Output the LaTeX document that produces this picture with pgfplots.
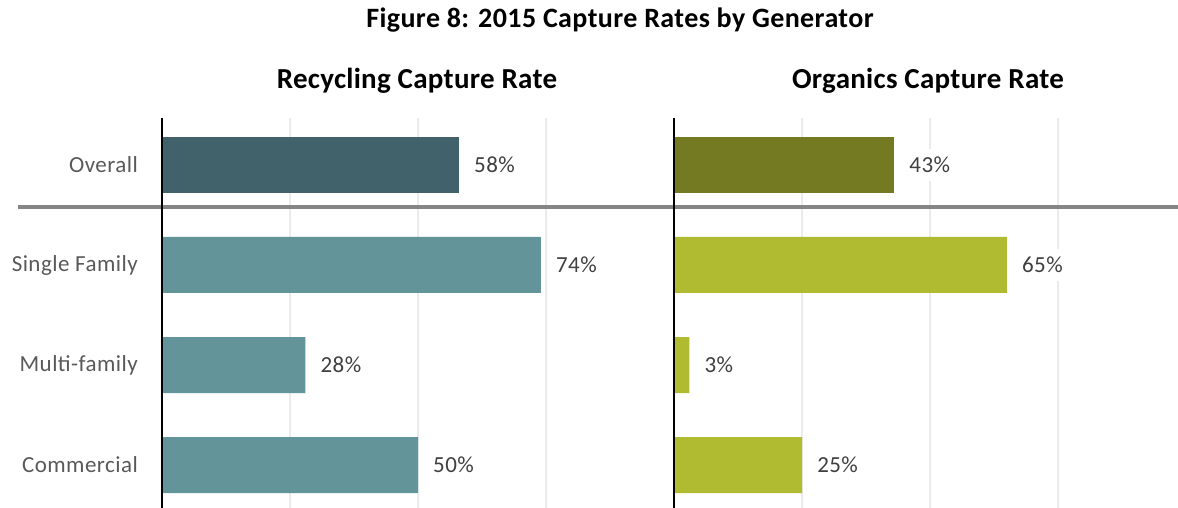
\documentclass[border=0pt]{standalone}
\usepackage{fontspec}
\setmainfont{Carlito}
\usepackage{pgfplots}
\pgfplotsset{compat=1.18}
\definecolor{recdark}{HTML}{41626A}
\definecolor{reclight}{HTML}{62949A}
\definecolor{orgdark}{HTML}{737A22}
\definecolor{orglight}{HTML}{B0BB32}
\definecolor{lblgray}{HTML}{595959}
\definecolor{valgray}{HTML}{404040}
\definecolor{gridgray}{HTML}{EBEBEB}
\definecolor{sepgray}{HTML}{858585}
\pgfplotsset{
  panel/.style={
    scale only axis, height=390pt, anchor=south west,
    xbar, bar width=56pt, bar shift=0pt,
    y dir=reverse, ymin=-0.47, ymax=3.43, xmin=0,
    axis line style={draw=none},
    clip=false,
    xtick={25,50,75}, xticklabels={},
    xmajorgrids, major grid style={gridgray, line width=1.5pt},
    major tick length=0pt,
    point meta=x,
    /pgf/number format/assume math mode=true,
    nodes near coords={\pgfmathprintnumber{\pgfplotspointmeta}\%},
    nodes near coords style={anchor=west, font=\fontsize{23}{26}\selectfont\addfontfeature{LetterSpace=2}, text=valgray, fill=white, inner xsep=2pt, inner ysep=8pt, xshift=13pt},
  }
}
\begin{document}
\begin{tikzpicture}[x=1pt,y=1pt]
\path[use as bounding box] (0,0) rectangle (1178,508);
\node[anchor=base, font=\fontsize{28}{32}\selectfont\bfseries\addfontfeature{LetterSpace=1.5}] at (620,480) {Figure 8: 2015 Capture Rates by Generator};
\node[anchor=base, font=\fontsize{29}{32}\selectfont\bfseries\addfontfeature{LetterSpace=1}] at (417,419) {Recycling Capture Rate};
\node[anchor=base, font=\fontsize{29}{32}\selectfont\bfseries\addfontfeature{LetterSpace=1}] at (928,419) {Organics Capture Rate};
\begin{axis}[panel, at={(162pt,0pt)}, width=512pt, xmax=100,
  ytick={0,1,2,3}, yticklabels={Overall,Single Family,Multi-family,Commercial},
  yticklabel style={font=\fontsize{23}{26}\selectfont\addfontfeature{LetterSpace=2}, text=lblgray, inner sep=0pt, xshift=-24pt}]
\addplot[fill=recdark, draw=none] coordinates {(58,0)};
\addplot[fill=reclight, draw=none] coordinates {(74,1) (28,2) (50,3)};
\draw[sepgray, line width=4.5pt] (axis cs:-28.1,0.42) -- (axis cs:100,0.42);
\draw[black, line width=2pt] (axis cs:0,-0.47) -- (axis cs:0,3.43);
\end{axis}
\begin{axis}[panel, at={(674pt,0pt)}, width=504pt, xmax=98.4, ytick=\empty]
\addplot[fill=orgdark, draw=none] coordinates {(43,0)};
\addplot[fill=orglight, draw=none] coordinates {(65,1) (3,2) (25,3)};
\draw[sepgray, line width=4.5pt] (axis cs:0,0.42) -- (axis cs:98.4,0.42);
\draw[black, line width=2pt] (axis cs:0,-0.47) -- (axis cs:0,3.43);
\end{axis}
\end{tikzpicture}
\end{document}
